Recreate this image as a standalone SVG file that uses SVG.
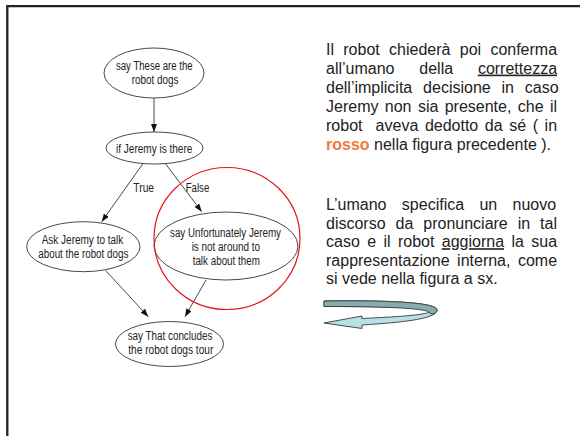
<svg xmlns="http://www.w3.org/2000/svg" width="580" height="436" viewBox="0 0 580 436">
<style>
.node ellipse{fill:none;stroke:#333;stroke-width:0.9}
.gt{font-family:"Liberation Sans",Arial,sans-serif;font-size:12.5px;fill:#222;text-anchor:middle}
.edge{stroke:#333;stroke-width:0.9;fill:none;marker-end:url(#ah)}
.para{font-family:"Liberation Sans",Arial,sans-serif;font-size:16px;fill:#222}
.u{text-decoration:underline}
</style>
<defs>
<marker id="ah" markerUnits="userSpaceOnUse" markerWidth="9" markerHeight="7" refX="8" refY="3" orient="auto">
<path d="M0,0 L8,3 L0,6 Z" fill="#111"/>
</marker>
</defs>
<rect width="580" height="436" fill="#fff"/>
<path d="M7.3,436 V6.2 H580" fill="none" stroke="#222" stroke-width="2.3"/>

<g id="connectors">
<path class="edge" d="M154,98 L154,132"/>
<path class="edge" d="M142.7,164 L101.7,221.7"/>
<path class="edge" d="M165.7,164 L201.7,211.7"/>
<path class="edge" d="M105.7,270.7 L148.3,316.7"/>
<path class="edge" d="M206,280 L185,316.7"/>
<text class="gt" x="143.7" y="192" textLength="20.7" lengthAdjust="spacingAndGlyphs">True</text>
<text class="gt" x="197.5" y="192" textLength="23.7" lengthAdjust="spacingAndGlyphs">False</text>
</g>

<g id="n1" class="node">
<ellipse cx="154" cy="73" rx="50" ry="25"/>
<text class="gt" x="154.3" y="70" textLength="76.7" lengthAdjust="spacingAndGlyphs">say These are the</text>
<text class="gt" x="155" y="84" textLength="46.7" lengthAdjust="spacingAndGlyphs">robot dogs</text>
</g>
<g id="n2" class="node">
<ellipse cx="154.5" cy="148" rx="48.5" ry="16"/>
<text class="gt" x="154.2" y="152.5" textLength="76.3" lengthAdjust="spacingAndGlyphs">if Jeremy is there</text>
</g>
<g id="n3" class="node">
<ellipse cx="83.3" cy="246.7" rx="56.7" ry="25"/>
<text class="gt" x="82.5" y="243.5" textLength="81.7" lengthAdjust="spacingAndGlyphs">Ask Jeremy to talk</text>
<text class="gt" x="83.3" y="258.3" textLength="90" lengthAdjust="spacingAndGlyphs">about the robot dogs</text>
</g>
<g id="n4" class="node">
<ellipse cx="226" cy="246" rx="72" ry="34"/>
<text class="gt" x="225.5" y="236.8" textLength="111" lengthAdjust="spacingAndGlyphs">say Unfortunately Jeremy</text>
<text class="gt" x="225.8" y="251" textLength="68.3" lengthAdjust="spacingAndGlyphs">is not around to</text>
<text class="gt" x="226.3" y="265" textLength="67.3" lengthAdjust="spacingAndGlyphs">talk about them</text>
</g>
<g id="n5" class="node">
<ellipse cx="169.5" cy="344" rx="54" ry="22.5"/>
<text class="gt" x="170" y="339.6" textLength="84.7" lengthAdjust="spacingAndGlyphs">say That concludes</text>
<text class="gt" x="170.8" y="353.8" textLength="85" lengthAdjust="spacingAndGlyphs">the robot dogs tour</text>
</g>

<ellipse id="highlight" cx="227" cy="238.5" rx="73" ry="71" fill="none" stroke="#e8141b" stroke-width="1.2"/>

<g id="paragraph1" class="para">
<text x="326" y="54.5" word-spacing="4.85">Il robot chiederà poi conferma</text>
<text x="326" y="73.6" word-spacing="20.35">all’umano della <tspan class="u">correttezza</tspan></text>
<text x="326" y="92.7" word-spacing="6.4">dell’implicita decisione in caso</text>
<text x="326" y="111.8" word-spacing="1.92">Jeremy non sia presente, che il</text>
<text x="326" y="130.9" word-spacing="2.13">robot&#160; aveva dedotto da sé ( in</text>
<text x="326" y="150.2"><tspan fill="#f07a38" font-weight="bold">rosso</tspan> nella figura precedente ).</text>
</g>

<g id="paragraph2" class="para">
<text x="326" y="210" word-spacing="10.9">L’umano specifica un nuovo</text>
<text x="326" y="228.6" word-spacing="5.5">discorso da pronunciare in tal</text>
<text x="326" y="247.2" word-spacing="2.93">caso e il robot <tspan class="u">aggiorna</tspan> la sua</text>
<text x="326" y="265.8" word-spacing="3">rappresentazione interna, come</text>
<text x="326" y="284.4">si vede nella figura a sx.</text>
</g>

<g id="uturn-arrow" stroke="#3a3a3a" stroke-width="0.9" stroke-linejoin="round">
<path d="M324,301 C395,300 437,303 437,310 C437,318 410,322 362,325 L362,328.5 L324,323 L362,316 L362,318.5 C405,316.5 428,314.5 430,311.5 C431,308 400,306.5 324,306.5 Z" fill="#b6e1e5"/>
<path d="M324,301 C395,300 437,303 437,310 C437,313 434,314.5 430,313.5 C431,309 400,306.5 324,306.5 Z" fill="#84adb0"/>
</g>
</svg>
